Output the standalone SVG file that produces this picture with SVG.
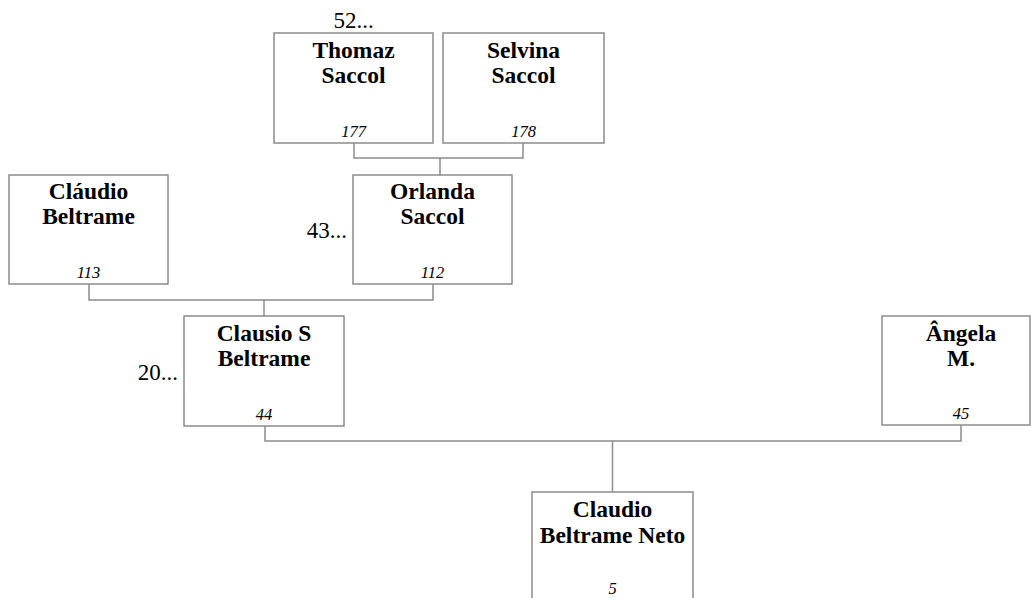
<svg xmlns="http://www.w3.org/2000/svg" width="1031" height="598" viewBox="0 0 1031 598">
<style>
.box{fill:#fff;stroke:#8c8c8c;stroke-width:1.5}
.nm{font-family:"Liberation Serif",serif;font-weight:bold;font-size:23.5px;text-anchor:middle;fill:#000}
.id{font-family:"Liberation Serif",serif;font-style:italic;font-size:16.5px;text-anchor:middle;fill:#000}
.more{font-family:"Liberation Serif",serif;font-size:23px;fill:#000}
.ln{fill:none;stroke:#8c8c8c;stroke-width:1.5}
</style>
<rect width="1031" height="598" fill="#fff"/>
<g id="connectors">
<polyline class="ln" points="354,143 354,158 523,158 523,143"/>
<line class="ln" x1="440" y1="158" x2="440" y2="175"/>
<polyline class="ln" points="89,284 89,300 433,300 433,284"/>
<line class="ln" x1="264" y1="300" x2="264" y2="316"/>
<polyline class="ln" points="265,426 265,441 961,441 961,425"/>
<line class="ln" x1="612.5" y1="441" x2="612.5" y2="492"/>
</g>
<g id="n177">
<rect class="box" x="274" y="33" width="159" height="110"/>
<text class="more" x="353.5" y="28" text-anchor="middle">52...</text>
<text class="nm" x="353.5" y="58">Thomaz</text>
<text class="nm" x="353.5" y="83">Saccol</text>
<text class="id" x="353.5" y="137">177</text>
</g>
<g id="n178">
<rect class="box" x="443" y="33" width="161" height="110"/>
<text class="nm" x="523.5" y="58">Selvina</text>
<text class="nm" x="523.5" y="83">Saccol</text>
<text class="id" x="523.5" y="137">178</text>
</g>
<g id="n113">
<rect class="box" x="9" y="175" width="159" height="109"/>
<text class="nm" x="88.5" y="199">Cláudio</text>
<text class="nm" x="88.5" y="224">Beltrame</text>
<text class="id" x="88.5" y="278">113</text>
</g>
<g id="n112">
<rect class="box" x="353" y="175" width="159" height="109"/>
<text class="more" x="347" y="238" text-anchor="end">43...</text>
<text class="nm" x="432.5" y="199">Orlanda</text>
<text class="nm" x="432.5" y="224">Saccol</text>
<text class="id" x="432.5" y="278">112</text>
</g>
<g id="n44">
<rect class="box" x="184" y="316" width="160" height="110"/>
<text class="more" x="178" y="380" text-anchor="end">20...</text>
<text class="nm" x="264" y="341">Clausio S</text>
<text class="nm" x="264" y="366">Beltrame</text>
<text class="id" x="264" y="420">44</text>
</g>
<g id="n45">
<rect class="box" x="882" y="316" width="148" height="109"/>
<text class="nm" x="961" y="341">Ângela</text>
<text class="nm" x="961" y="366">M.</text>
<text class="id" x="961" y="419">45</text>
</g>
<g id="n5">
<rect class="box" x="532" y="492" width="161" height="120"/>
<text class="nm" x="612.5" y="517">Claudio</text>
<text class="nm" x="612.5" y="543">Beltrame Neto</text>
<text class="id" x="612.5" y="594">5</text>
</g>
</svg>
